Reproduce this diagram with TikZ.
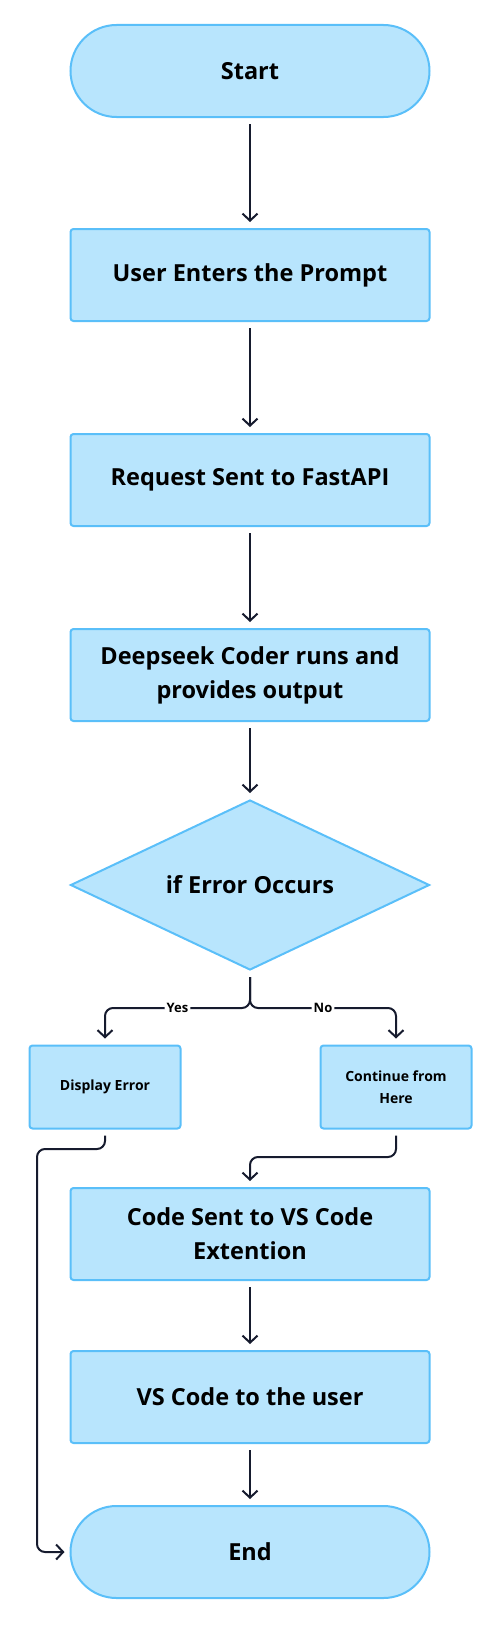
\documentclass[tikz,border=0pt]{standalone}
\usepackage{fontspec}
\setmainfont{Open Sans}
\usepackage{xcolor}
\usetikzlibrary{shapes.geometric,arrows.meta,positioning}
\definecolor{boxfill}{HTML}{B8E5FD}
\definecolor{boxline}{HTML}{5ABFF9}
\definecolor{arrowink}{HTML}{161B2E}

\begin{document}
\begin{tikzpicture}[x=1pt,y=-1pt,
	block/.style={draw=boxline,fill=boxfill,line width=2pt,rounded corners=3pt,
		minimum width=359pt,minimum height=92pt,align=center,
		font=\fontsize{23.5}{34}\selectfont\bfseries},
	term/.style={block,rounded corners=46pt},
	decide/.style={diamond,draw=boxline,fill=boxfill,line width=2pt,inner sep=0pt,
		minimum width=359pt,minimum height=170pt,aspect=2.11,
		font=\fontsize{23.5}{34}\selectfont\bfseries},
	small/.style={block,minimum width=151pt,minimum height=83pt,
		font=\fontsize{14}{22}\selectfont\bfseries},
	arr/.style={draw=arrowink,line width=2pt,rounded corners=8pt,
		-{Straight Barb[length=7pt,width=15pt,line width=2pt]},
		shorten <=6pt,shorten >=6pt},
	lbl/.style={fill=white,inner sep=2pt,font=\fontsize{13}{15}\selectfont\bfseries}]
	\useasboundingbox (0,0) rectangle (500,1646);
	% main column
	\node[term]  (start)  at (250,71)   {Start};
	\node[block] (prompt) at (250,275)  {User Enters the Prompt};
	\node[block] (api)    at (250,480)  {Request Sent to FastAPI};
	\node[block] (coder)  at (250,675)  {Deepseek Coder runs and\\provides output};
	\node[decide] (err)   at (250,885)  {if Error Occurs};
	\node[small] (show)   at (105,1087) {Display Error};
	\node[small] (cont)   at (396,1087) {Continue from\\Here};
	\node[block] (ext)    at (250,1234) {Code Sent to VS Code\\Extention};
	\node[block] (user)   at (250,1397) {VS Code to the user};
	\node[term]  (stop)   at (250,1552) {End};
	% bends
	\coordinate (fork)  at (250,1008);
	\coordinate (yesx)  at (105,1008);
	\coordinate (nox)   at (396,1008);
	\coordinate (showturn) at (37,1149);
	\coordinate (contturn) at (250,1157);
	% arrows
	\draw[arr] (start) -- (prompt);
	\draw[arr] (prompt) -- (api);
	\draw[arr] (api) -- (coder);
	\draw[arr] (coder) -- (err);
	\draw[arr] (err.south) -- (fork) -- node[lbl]{Yes} (yesx) -- (show.north);
	\draw[arr] (err.south) -- (fork) -- node[lbl]{No} (nox) -- (cont.north);
	\draw[arr,shorten >=5pt] (show.south) |- (showturn) |- (stop.west);
	\draw[arr] (cont.south) |- (contturn) -- (ext.north);
	\draw[arr] (ext) -- (user);
	\draw[arr] (user) -- (stop);
\end{tikzpicture}
\end{document}
